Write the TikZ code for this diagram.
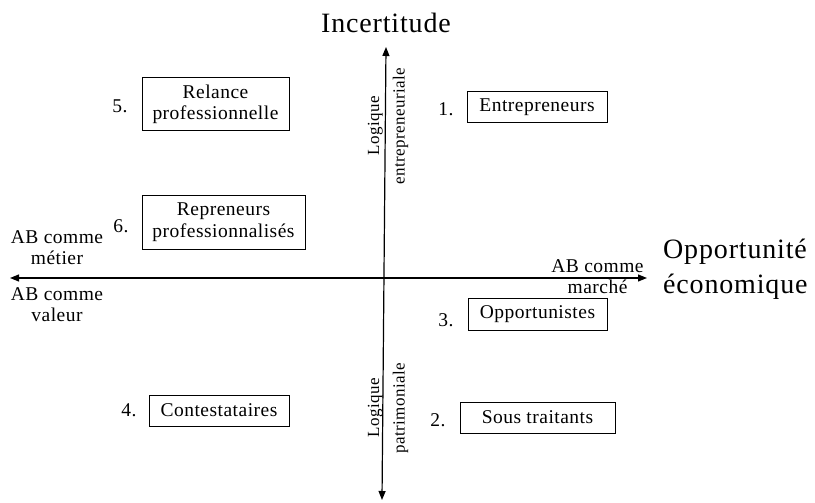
\documentclass[tikz,border=0pt]{standalone}
\usepackage{fontspec}
\setmainfont{Liberation Serif}
\newfontfamily\lsfont[LetterSpace=2.5]{Liberation Serif}
\newfontfamily\ttlfont[LetterSpace=3]{Liberation Serif}
\usetikzlibrary{arrows.meta}
\newcommand\boxfnt{\lsfont\fontsize{19.5}{21.6}\selectfont}
\newcommand\vertfnt{\lsfont\fontsize{17}{25.5}\selectfont}
\newcommand\ttlfnt{\ttlfont\fontsize{28}{34.5}\selectfont}
\begin{document}
\begin{tikzpicture}[x=1pt,y=-1pt,
  box/.style={draw, line width=1pt, inner sep=0pt, align=center, font=\boxfnt},
  num/.style={inner sep=0pt, font=\boxfnt},
  lbl/.style={inner sep=0pt, align=center, font=\boxfnt, anchor=north},
  vlbl/.style={inner sep=0pt, align=center, font=\vertfnt, rotate=90},
  ttl/.style={inner sep=0pt, font=\ttlfnt},
  axis/.style={line width=1.2pt, {Triangle[length=9pt,width=7pt]}-{Triangle[length=9pt,width=7pt]}}]
\useasboundingbox (0,0) rectangle (815,503);
% axes
\coordinate (vtop) at (386,47);
\coordinate (vbot) at (382,500);
\coordinate (hl) at (10,278);
\coordinate (hr) at (647,278);
\draw[axis] (vbot) -- (vtop);
\draw[axis] (hl) -- (hr);
% titles
\node[ttl, anchor=base] (incert) at (386,33) {Incertitude};
\node[ttl, anchor=north west, align=left] (opp) at (663,239) {Opportunité\\économique};
% boxes
\node[box, minimum width=147pt, minimum height=53pt] (relance) at (215.5,104.5) {Relance\\professionnelle};
\node[box, minimum width=140pt, minimum height=31pt] (entre) at (537,107.5) {Entrepreneurs};
\node[box, minimum width=163pt, minimum height=54pt] (repren) at (223.5,222) {Repreneurs\\professionnalisés};
\node[box, minimum width=139pt, minimum height=32pt] (oppo) at (537.5,314) {Opportunistes};
\node[box, minimum width=140pt, minimum height=31pt] (contest) at (219,410.5) {Contestataires};
\node[box, minimum width=155pt, minimum height=31pt] (sous) at (537.5,417.5) {Sous traitants};
% numbers
\node[num] (n5) at (120,106) {5.};
\node[num] (n1) at (446,109) {1.};
\node[num] (n6) at (121,226) {6.};
\node[num] (n3) at (446,320) {3.};
\node[num] (n2) at (438,420) {2.};
\node[num] (n4) at (129,410) {4.};
% axis labels
\node[lbl] (metier) at (57,230) {AB comme\\métier};
\node[lbl] (valeur) at (57,287) {AB comme\\valeur};
\node[lbl] (marche) at (597.5,259) {AB comme\\marché};
\node[vlbl] (lent) at (388,126) {Logique\\entrepreneuriale};
\node[vlbl] (lpat) at (388,408) {Logique\\patrimoniale};
\end{tikzpicture}
\end{document}
